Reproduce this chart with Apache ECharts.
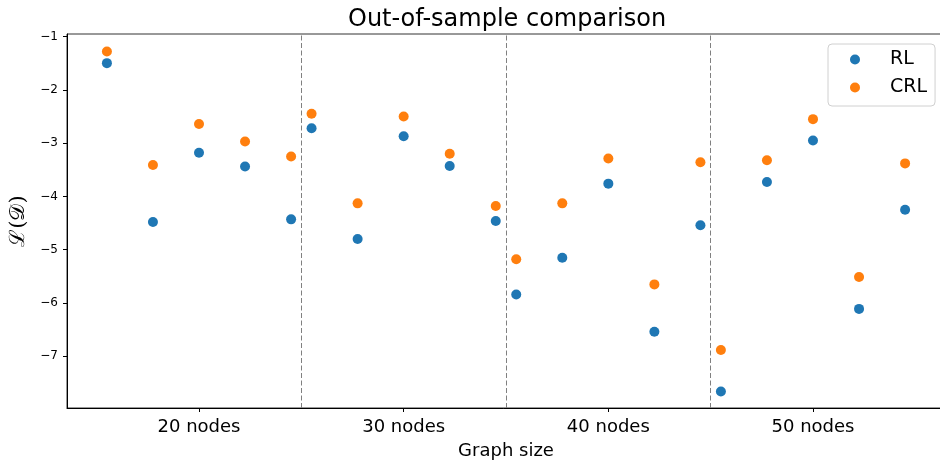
<!DOCTYPE html>
<html>
<head>
<meta charset="utf-8">
<script src="https://cdn.jsdelivr.net/npm/echarts@6/dist/echarts.min.js"></script>
<style>
  html, body { margin: 0; padding: 0; background: #fff; }
  #chart { width: 940px; height: 465px; }
</style>
</head>
<body>
<div id="chart"></div>
<script>
// ---- data ----
const categories = ['20 nodes', '30 nodes', '40 nodes', '50 nodes'];
const runOffsets = [-0.45, -0.225, 0, 0.225, 0.45];   // 5 runs per graph size
const rlValues = [
  -1.50, -4.48, -3.18, -3.44, -4.43,
  -2.72, -4.80, -2.87, -3.43, -4.46,
  -5.84, -5.15, -3.76, -6.54, -4.54,
  -7.66, -3.73, -2.95, -6.11, -4.25
];
const crlValues = [
  -1.28, -3.41, -2.64, -2.97, -3.25,
  -2.45, -4.13, -2.50, -3.20, -4.18,
  -5.18, -4.13, -3.29, -5.65, -3.36,
  -6.88, -3.32, -2.55, -5.51, -3.38
];
const groupDividers = [0.5, 1.5, 2.5];
const yTicks = [-1, -2, -3, -4, -5, -6, -7];
const xTicks = [0, 1, 2, 3];

function toPoints(values) {
  return values.map((v, i) => {
    const g = Math.floor(i / runOffsets.length);
    const k = i % runOffsets.length;
    return [g + runOffsets[k], v];
  });
}

const FONT = 'DejaVu Sans';
const chart = echarts.init(document.getElementById('chart'), null, { renderer: 'canvas' });
chart.setOption({
  animation: false,
  backgroundColor: '#fff',
  textStyle: { fontFamily: FONT },
  title: {
    text: 'Out-of-sample comparison',
    left: 343, top: 3,
    textStyle: { fontFamily: FONT, fontSize: 24, fontWeight: 'normal', color: '#000' }
  },
  legend: {
    orient: 'vertical',
    left: 828, top: 44,
    icon: 'circle',
    itemWidth: 10, itemHeight: 10, itemGap: 9,
    padding: [6, 8, 9, 22],
    borderColor: '#d0d0d0', borderWidth: 1, borderRadius: 4,
    backgroundColor: '#fff',
    textStyle: { fontFamily: FONT, fontSize: 19, color: '#000', padding: [0, 0, 0, 25] },
    data: ['RL', 'CRL']
  },
  grid: {
    left: 67, top: 34, width: 878, height: 374,
    outerBoundsMode: 'none', containLabel: false,
    show: true, borderColor: '#333', borderWidth: 1, backgroundColor: 'transparent'
  },
  xAxis: {
    type: 'value',
    min: -0.645, max: 3.645,
    name: 'Graph size', nameLocation: 'middle', nameGap: 34,
    nameTextStyle: { fontFamily: FONT, fontSize: 18, color: '#000' },
    splitLine: { show: false },
    axisLine: { show: true, onZero: false, lineStyle: { color: '#000', width: 1 } },
    axisTick: { show: true, customValues: xTicks, length: 4, lineStyle: { color: '#000' } },
    axisLabel: {
      customValues: xTicks, margin: 10,
      fontFamily: FONT, fontSize: 18, color: '#000',
      formatter: v => categories[Math.round(v)]
    }
  },
  yAxis: {
    type: 'value',
    min: -7.969, max: -0.953,
    name: 'ℒ(𝒟)', nameLocation: 'middle', nameGap: 38, nameRotate: 90,
    nameTextStyle: { fontFamily: 'DejaVu Serif', fontSize: 21, color: '#000' },
    splitLine: { show: false },
    axisLine: { show: true, onZero: false, lineStyle: { color: '#000', width: 1 } },
    axisTick: { show: true, customValues: yTicks, length: 4, lineStyle: { color: '#000' } },
    axisLabel: {
      customValues: yTicks, margin: 9,
      fontFamily: FONT, fontSize: 12, color: '#000',
      formatter: v => (v < 0 ? '\u2212' : '') + Math.abs(v)
    }
  },
  series: [
    {
      name: 'RL', type: 'scatter', symbolSize: 10,
      itemStyle: { color: '#1f77b4', opacity: 1 },
      data: toPoints(rlValues),
      markLine: {
        silent: true, symbol: ['none', 'none'],
        label: { show: false },
        lineStyle: { color: '#808080', type: [5, 2.5], width: 1, opacity: 1 },
        data: groupDividers.map(x => ({ xAxis: x }))
      },
      z: 3
    },
    {
      name: 'CRL', type: 'scatter', symbolSize: 10,
      itemStyle: { color: '#ff7f0e', opacity: 1 },
      data: toPoints(crlValues),
      z: 3
    }
  ]
});
</script>
</body>
</html>
